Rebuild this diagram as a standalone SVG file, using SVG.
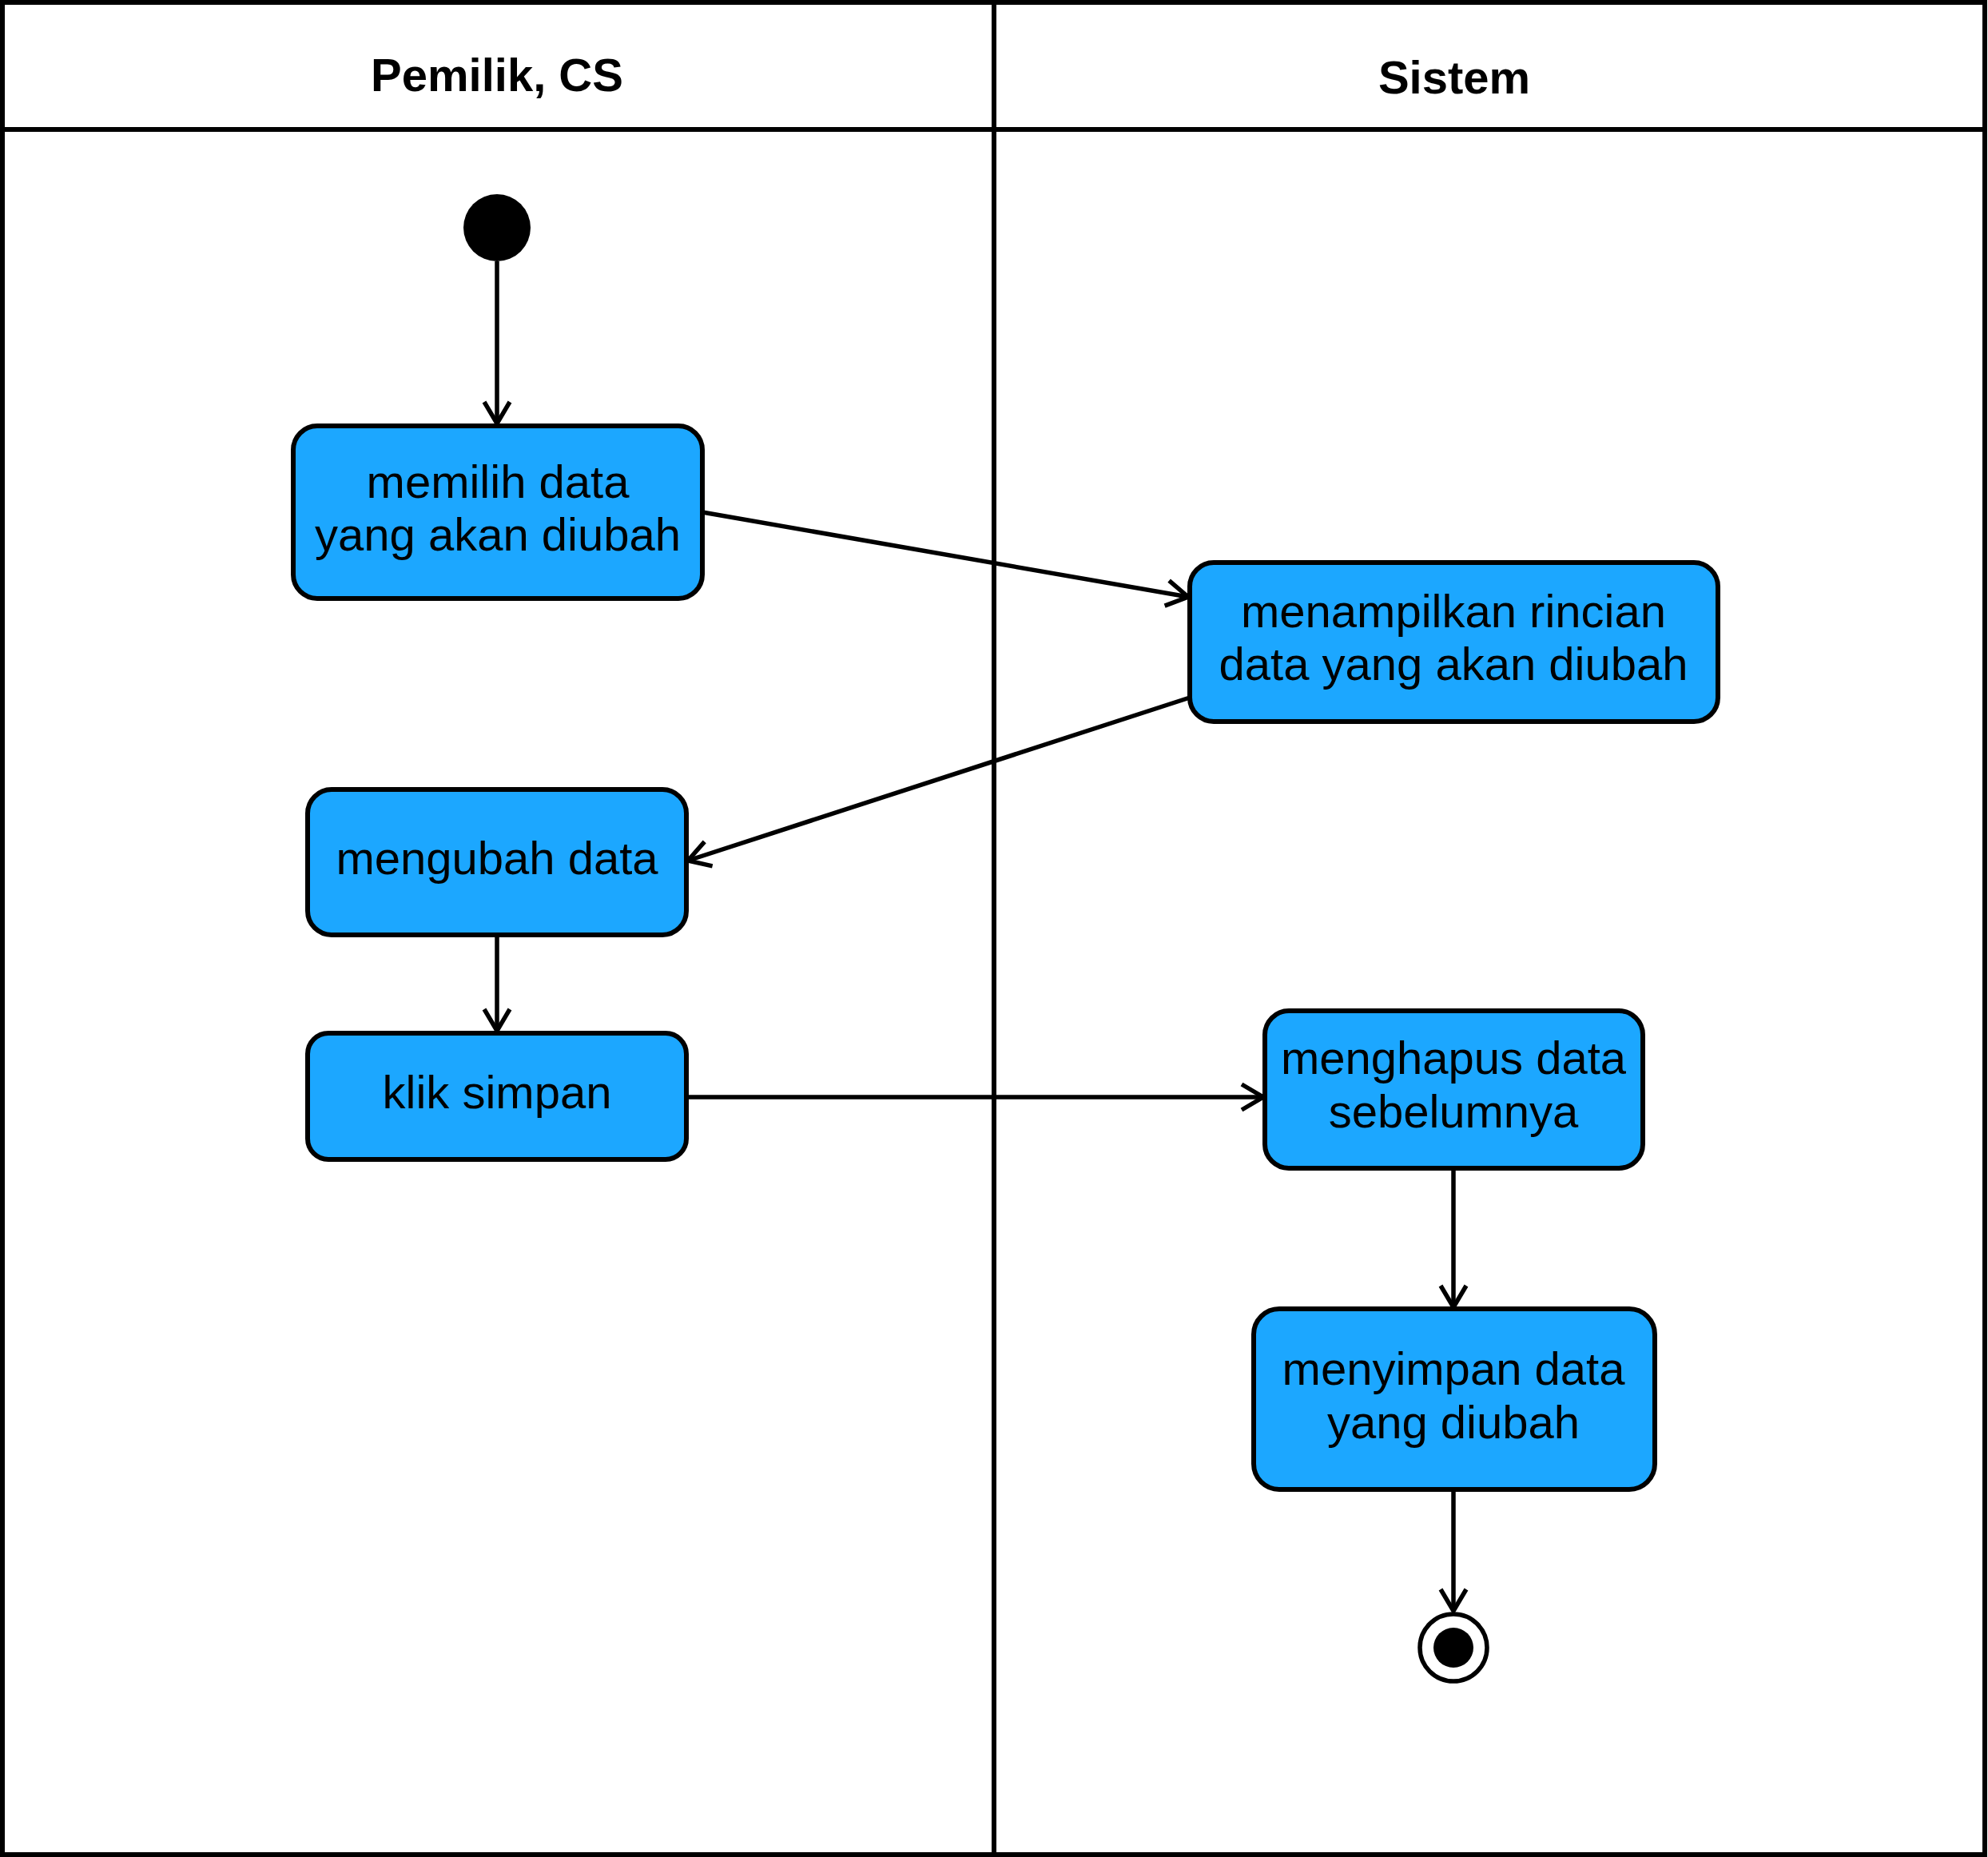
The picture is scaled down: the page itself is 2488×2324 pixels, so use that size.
<svg xmlns="http://www.w3.org/2000/svg" width="2488" height="2324" viewBox="0 0 2488 2324">
<style>
.lane{fill:none;stroke:#000;stroke-width:6}
.box{fill:#1CA7FF;stroke:#000;stroke-width:6}
.t{font-family:"Liberation Sans",Arial,sans-serif;font-size:58px;fill:#000;text-anchor:middle}
.h{font-family:"Liberation Sans",Arial,sans-serif;font-size:58px;font-weight:bold;fill:#000;text-anchor:middle}
.c{fill:none;stroke:#000;stroke-width:5.5;marker-end:url(#arr)}
</style>
<defs>
<marker id="arr" markerUnits="userSpaceOnUse" markerWidth="60" markerHeight="60" viewBox="-40 -30 50 60" refX="0" refY="0" orient="auto">
<path d="M-27,-16 L0,0 L-27,16" fill="none" stroke="#000" stroke-width="5.5"/>
</marker>
</defs>
<rect width="2488" height="2324" fill="#fff"/>
<g id="pool">
<rect class="lane" x="3" y="3" width="2481" height="2318"/>
<line class="lane" x1="3" y1="162" x2="2484" y2="162"/>
<line class="lane" x1="1244" y1="3" x2="1244" y2="2321"/>
<text class="h" x="622" y="114">Pemilik, CS</text>
<text class="h" x="1820" y="117">Sistem</text>
</g>
<g id="connectors">
<line class="c" x1="622" y1="327" x2="622" y2="530"/>
<line class="c" x1="879" y1="641" x2="1487" y2="747"/>
<line class="c" x1="1489" y1="873" x2="861" y2="1077"/>
<line class="c" x1="622" y1="1170" x2="622" y2="1290"/>
<line class="c" x1="859" y1="1373" x2="1581" y2="1373"/>
<line class="c" x1="1819" y1="1463" x2="1819" y2="1636"/>
<line class="c" x1="1819" y1="1865" x2="1819" y2="2016"/>
</g>
<g id="start"><circle cx="622" cy="285" r="42" fill="#000"/></g>
<g id="n1"><rect class="box" x="367" y="533" width="512" height="216" rx="30"/>
<text class="t" x="623" y="623">memilih data</text><text class="t" x="623" y="689">yang akan diubah</text></g>
<g id="n2"><rect class="box" x="1489" y="704" width="661" height="199" rx="30"/>
<text class="t" x="1819" y="785">menampilkan rincian</text><text class="t" x="1819" y="851">data yang akan diubah</text></g>
<g id="n3"><rect class="box" x="385" y="988" width="474" height="182" rx="30"/>
<text class="t" x="622" y="1094">mengubah data</text></g>
<g id="n4"><rect class="box" x="385" y="1293" width="474" height="158" rx="26"/>
<text class="t" x="622" y="1387">klik simpan</text></g>
<g id="n5"><rect class="box" x="1583" y="1265" width="473" height="197" rx="30"/>
<text class="t" x="1819" y="1344">menghapus data</text><text class="t" x="1819" y="1411">sebelumnya</text></g>
<g id="n6"><rect class="box" x="1569" y="1638" width="502" height="226" rx="32"/>
<text class="t" x="1819" y="1733">menyimpan data</text><text class="t" x="1819" y="1800">yang diubah</text></g>
<g id="end"><circle cx="1819" cy="2062" r="42" fill="#fff" stroke="#000" stroke-width="5.5"/><circle cx="1819" cy="2062" r="25" fill="#000"/></g>
</svg>
